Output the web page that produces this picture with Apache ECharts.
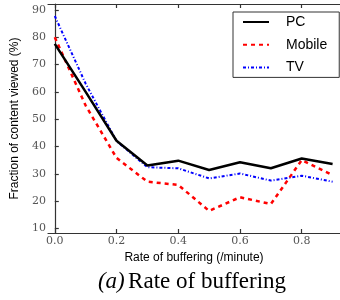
<!DOCTYPE html>
<html><head><meta charset="utf-8">
<script src="https://cdn.jsdelivr.net/npm/echarts@6/dist/echarts.min.js"></script>
<style>html,body{margin:0;padding:0;background:#fff}#c{width:340px;height:300px}</style>
</head><body><div id="c"></div>
<script>
const xValues = [0.0, 0.1, 0.2, 0.3, 0.4, 0.5, 0.6, 0.7, 0.8, 0.9];
const pcValues = [77.6, 60.0, 42.1, 33.0, 34.8, 31.4, 34.2, 32.0, 35.6, 33.6];
const mobileValues = [80.0, 55.0, 35.8, 27.1, 25.9, 16.4, 21.4, 18.9, 35.0, 29.5];
const tvValues = [87.8, 63.0, 42.0, 32.4, 32.0, 28.3, 30.1, 27.5, 29.3, 27.1];
const xTicks = [0.0, 0.2, 0.4, 0.6, 0.8];
const yTicks = [10, 20, 30, 40, 50, 60, 70, 80, 90];
const seriesNames = ['PC', 'Mobile', 'TV'];

const pair = v => xValues.map((x, i) => [x, v[i]]);
const chart = echarts.init(document.getElementById('c'), null, {renderer: 'canvas'});
const axisLineStyle = {color: '#333', width: 1.2};
const tickLabel = {color: '#555', fontFamily: 'DejaVu Serif', fontSize: 11};
chart.setOption({
  animation: false,
  backgroundColor: '#fff',
  grid: {left: 48, right: -6, top: 4, bottom: 67},
  legend: {
    orient: 'vertical', left: 233, top: 12,
    data: seriesNames,
    backgroundColor: '#fff',
    borderColor: '#333', borderWidth: 1, borderRadius: 0,
    padding: [3, 12, 3, 9],
    itemWidth: 26, itemHeight: 14, itemGap: 8.7,
    itemStyle: {opacity: 0},
    textStyle: {fontFamily: 'Liberation Sans', fontSize: 14, color: '#000', padding: [0, 0, 0, 12]}
  },
  xAxis: [{
    type: 'value', min: -0.022, max: 0.924, position: 'bottom',
    name: 'Rate of buffering (/minute)', nameLocation: 'middle', nameGap: 15,
    nameTextStyle: {fontFamily: 'Liberation Sans', fontSize: 12, color: '#000'},
    axisLine: {show: true, lineStyle: axisLineStyle},
    axisTick: {show: true, inside: true, length: 4, customValues: xTicks, lineStyle: axisLineStyle},
    axisLabel: Object.assign({customValues: xTicks, margin: 3, formatter: v => v.toFixed(1)}, tickLabel),
    splitLine: {show: false}
  }, {
    type: 'value', min: -0.022, max: 0.924, position: 'top',
    axisLine: {show: true, lineStyle: axisLineStyle},
    axisTick: {show: true, inside: true, length: 4, customValues: xTicks, lineStyle: axisLineStyle},
    axisLabel: {show: false},
    splitLine: {show: false}
  }],
  yAxis: {
    type: 'value', min: 8.3, max: 92.2,
    name: 'Fraction of content viewed (%)', nameLocation: 'middle', nameGap: 19,
    nameTextStyle: {fontFamily: 'Liberation Sans', fontSize: 12, color: '#000'},
    axisLine: {show: true, lineStyle: axisLineStyle},
    axisTick: {show: true, inside: true, length: 4, customValues: yTicks, lineStyle: axisLineStyle},
    axisLabel: Object.assign({customValues: yTicks, margin: 2}, tickLabel),
    splitLine: {show: false}
  },
  series: [
    {name: 'PC', type: 'line', data: pair(pcValues), symbol: 'none', z: 3,
     lineStyle: {color: '#000', width: 2.5, type: 'solid'}, itemStyle: {color: '#000'}},
    {name: 'Mobile', type: 'line', data: pair(mobileValues), symbol: 'none', z: 2,
     lineStyle: {color: '#ff0000', width: 2.5, type: [4, 4]}, itemStyle: {color: '#ff0000'}},
    {name: 'TV', type: 'line', data: pair(tvValues), symbol: 'none', z: 1,
     lineStyle: {color: '#0000ff', width: 2, type: [3, 2, 1, 2]}, itemStyle: {color: '#0000ff'}}
  ],
  graphic: [{
    type: 'text', x: 192, y: 282,
    style: {
      text: '{i|(a)} {r|Rate of buffering}',
      align: 'center', verticalAlign: 'middle',
      rich: {
        i: {fontFamily: 'Liberation Serif', fontStyle: 'italic', fontSize: 23, fill: '#000'},
        r: {fontFamily: 'Liberation Serif', fontSize: 23, fill: '#000'}
      }
    }
  }]
});
</script></body></html>
